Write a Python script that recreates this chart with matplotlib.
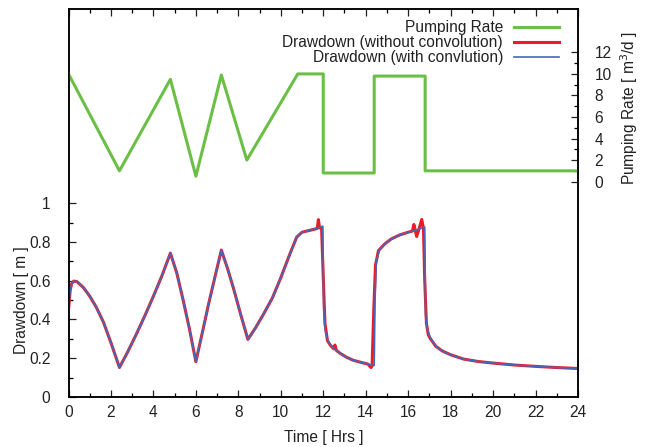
import numpy as np
import matplotlib
matplotlib.use('Agg')
import matplotlib.pyplot as plt
from matplotlib.ticker import FixedLocator

plt.rcParams['font.family'] = ['Liberation Sans', 'DejaVu Sans']

# ── data ─────────────────────────────────────────────────────────
t_pump = [0, 2.4, 4.8, 6.0, 7.2, 8.4, 10.8, 12.0, 12.0, 14.4, 14.4, 16.8, 16.8, 24]
q_pump = [10.0, 1.0, 9.5, 0.5, 9.9, 2.0, 10.0, 10.0, 0.8, 0.8, 9.8, 9.8, 1.0, 1.0]

t_conv = [0, 0.08, 0.15, 0.25, 0.4, 0.7, 1.0, 1.3, 1.65, 2.0, 2.4,
          2.8, 3.2, 3.6, 4.0, 4.4, 4.8, 5.1, 5.4, 5.7, 6.0,
          6.3, 6.6, 6.9, 7.2, 7.5, 7.8, 8.1, 8.45, 8.8, 9.2, 9.6, 10.0,
          10.4, 10.75, 11.0, 11.3, 11.6, 11.98, 12.02, 12.1, 12.25, 12.5,
          12.8, 13.1, 13.4, 13.8, 14.1, 14.4, 14.44, 14.5, 14.65, 14.9,
          15.2, 15.6, 16.0, 16.4, 16.78, 16.82, 16.9, 17.05, 17.3, 17.6,
          18.0, 18.6, 19.3, 20.0, 21.0, 22.0, 23.0, 24.0]
s_conv = [0.45, 0.55, 0.585, 0.598, 0.595, 0.565, 0.52, 0.465, 0.385, 0.28, 0.152,
          0.235, 0.325, 0.42, 0.52, 0.625, 0.742, 0.64, 0.50, 0.35, 0.182,
          0.33, 0.48, 0.62, 0.758, 0.66, 0.55, 0.43, 0.297, 0.355, 0.43, 0.51, 0.615,
          0.73, 0.825, 0.85, 0.858, 0.868, 0.881, 0.45, 0.34, 0.28, 0.25,
          0.225, 0.205, 0.19, 0.178, 0.17, 0.162, 0.5, 0.70, 0.76, 0.79,
          0.815, 0.836, 0.85, 0.862, 0.877, 0.42, 0.35, 0.305, 0.262, 0.238,
          0.218, 0.196, 0.183, 0.175, 0.165, 0.158, 0.152, 0.147]

t_noconv = [0, 0.08, 0.15, 0.25, 0.4, 0.7, 1.0, 1.3, 1.65, 2.0, 2.4,
            2.8, 3.2, 3.6, 4.0, 4.4, 4.8, 5.1, 5.4, 5.7, 6.0,
            6.3, 6.6, 6.9, 7.2, 7.5, 7.8, 8.1, 8.45, 8.8, 9.2, 9.6, 10.0,
            10.4, 10.75, 11.0, 11.3, 11.6, 11.72, 11.77, 11.83, 11.92, 12.0, 12.08,
            12.2, 12.35, 12.5, 12.55, 12.62, 12.8, 13.1, 13.4, 13.8, 14.1, 14.25,
            14.3, 14.38, 14.46, 14.6, 14.9, 15.2, 15.6, 16.0, 16.2, 16.27, 16.4,
            16.52, 16.64, 16.72, 16.78, 16.86, 16.95, 17.05, 17.3, 17.6,
            18.0, 18.6, 19.3, 20.0, 21.0, 22.0, 23.0, 24.0]
s_noconv = [0.45, 0.55, 0.585, 0.598, 0.595, 0.565, 0.52, 0.465, 0.385, 0.28, 0.152,
            0.235, 0.325, 0.42, 0.52, 0.625, 0.742, 0.64, 0.50, 0.35, 0.182,
            0.33, 0.48, 0.62, 0.758, 0.66, 0.55, 0.43, 0.297, 0.355, 0.43, 0.51, 0.615,
            0.73, 0.825, 0.85, 0.858, 0.866, 0.87, 0.915, 0.872, 0.875, 0.62, 0.38,
            0.29, 0.265, 0.248, 0.268, 0.24, 0.225, 0.205, 0.19, 0.178, 0.17, 0.152,
            0.16, 0.45, 0.68, 0.755, 0.79, 0.815, 0.836, 0.85, 0.856, 0.89, 0.828,
            0.87, 0.916, 0.87, 0.6, 0.38, 0.32, 0.3, 0.262, 0.238,
            0.218, 0.196, 0.183, 0.175, 0.165, 0.158, 0.152, 0.147]

C_GREEN = '#6cbf46'; C_RED = '#ec1c24'; C_BLUE = '#4866b8'; C_TXT = '#222222'
FS = 11.2

fig = plt.figure(figsize=(6.48, 4.47), dpi=100)
ax = fig.add_axes([68.5/648, 1-397/447, (578-68.5)/648, (397-9.3)/447])
ax2 = ax.twinx()

lr, = ax.plot(t_noconv, s_noconv, color=C_RED, lw=2.2, zorder=3,
              label='Drawdown (without convolution)')
lb, = ax.plot(t_conv, s_conv, color=C_BLUE, lw=1.2, zorder=4,
              label='Drawdown (with convlution)')
lg, = ax2.plot(t_pump, q_pump, color=C_GREEN, lw=2.2, label='Pumping Rate')

ax.set_xlim(0, 24)
ax.set_ylim(0, 2.0)
ax2.set_ylim(-20, 16)

ax.xaxis.set_major_locator(FixedLocator(np.arange(0, 25, 2)))
ax.xaxis.set_minor_locator(FixedLocator(np.arange(1, 24, 2)))
ax.yaxis.set_major_locator(FixedLocator([0, 0.2, 0.4, 0.6, 0.8, 1.0]))
ax.yaxis.set_minor_locator(FixedLocator([0.1, 0.3, 0.5, 0.7, 0.9]))
ax.set_yticklabels(['0', '0.2', '0.4', '0.6', '0.8', '1'])
ax2.yaxis.set_major_locator(FixedLocator(np.arange(0, 13, 2)))
ax2.yaxis.set_minor_locator(FixedLocator(np.arange(1, 12, 2)))

for a in (ax, ax2):
    a.tick_params(which='major', direction='in', length=5, width=0.9,
                  labelsize=FS, colors=C_TXT)
    a.tick_params(which='minor', direction='in', length=2.6, width=0.9)
    for sp in a.spines.values():
        sp.set_linewidth(1.1)
ax.tick_params(axis='x', which='both', top=True, pad=6)
ax.tick_params(axis='y', which='both', right=False, pad=13)
ax2.tick_params(axis='y', pad=12)

ax.set_xlabel('Time [ Hrs ]', fontsize=FS, color=C_TXT)
ax.xaxis.set_label_coords(0.5, -0.085)
ax.set_ylabel('Drawdown [ m ]', fontsize=FS, color=C_TXT)
ax.yaxis.set_label_coords(-0.0775, 0.25)
ax2.set_ylabel('Pumping Rate [ m$^3$/d ]', fontsize=FS, color=C_TXT)
ax2.yaxis.set_label_coords(1.0785, 0.745)

ax2.legend([lg, lr, lb], [lg.get_label(), lr.get_label(), lb.get_label()],
           loc='upper right', bbox_to_anchor=(559/648, 1-20/447),
           bbox_transform=fig.transFigure, frameon=False, markerfirst=False,
           fontsize=FS, handlelength=2.9, handletextpad=0.7,
           labelspacing=0.0, borderpad=0, borderaxespad=0, labelcolor=C_TXT)

fig.savefig('out.png', dpi=100)
